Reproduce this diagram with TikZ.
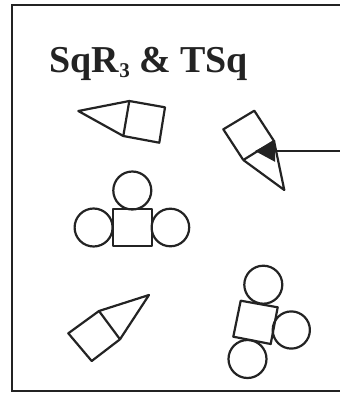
\documentclass[tikz,border=0pt]{standalone}
\usepackage{fontspec}
\setmainfont{Liberation Serif}
\usetikzlibrary{arrows.meta}
\definecolor{ink}{RGB}{35,35,35}
\tikzset{
  outline/.style={draw=ink, line width=2.2pt, line join=round},
  frame/.style={draw=ink, line width=2.3pt},
  pointer/.style={draw=ink, line width=2.3pt, -{Triangle[length=20pt,width=21pt]}},
}
\begin{document}
\begin{tikzpicture}[x=1pt,y=-1pt]
  \useasboundingbox (0,0) rectangle (340,400);
  \begin{scope}
    \clip (0,0) rectangle (340,400);
    \draw[frame] (12,5) rectangle (360,391);
  \end{scope}

  % heading
  \node[anchor=base west, inner sep=0pt, text=ink] (title) at (49.5,72.5)
    {\fontsize{38}{42}\selectfont\bfseries SqR\raisebox{-4.5pt}{\fontsize{21}{21}\selectfont 3} \& TSq};

  % square with triangle, upper left
  \coordinate (a1) at (129.3,101);
  \coordinate (a2) at (165,107.3);
  \coordinate (a3) at (159.3,142.7);
  \coordinate (a4) at (123.3,136);
  \coordinate (at) at (78.3,111);
  \draw[outline] (a1) -- (a2) -- (a3) -- (a4) -- cycle;
  \draw[outline] (a1) -- (at) -- (a4);

  % square with triangle, upper right
  \coordinate (b1) at (223.3,129.3);
  \coordinate (b2) at (254.3,110.7);
  \coordinate (b3) at (274,141);
  \coordinate (b4) at (243.3,160);
  \coordinate (bt) at (284.3,190);
  \draw[outline] (b1) -- (b2) -- (b3) -- (b4) -- cycle;
  \draw[outline] (b4) -- (bt) -- (b3);

  % square with three circles, middle left
  \draw[outline] (113,209) rectangle (152,246);
  \draw[outline] (132.3,190.5) circle (19);
  \draw[outline] (93.6,227.5) circle (19);
  \draw[outline] (170.4,227.5) circle (18.8);

  % square with triangle, lower left
  \coordinate (d1) at (68.3,333.3);
  \coordinate (d2) at (99,311);
  \coordinate (d3) at (120,339.3);
  \coordinate (d4) at (91.7,361);
  \coordinate (dt) at (149,295);
  \draw[outline] (d1) -- (d2) -- (d3) -- (d4) -- cycle;
  \draw[outline] (d2) -- (dt) -- (d3);

  % square with three circles, lower right
  \coordinate (e1) at (240.7,300.7);
  \coordinate (e2) at (277.7,307.3);
  \coordinate (e3) at (270.7,344);
  \coordinate (e4) at (233.3,336.7);
  \draw[outline] (e1) -- (e2) -- (e3) -- (e4) -- cycle;
  \draw[outline] (263.3,284.7) circle (19);
  \draw[outline] (291.3,330) circle (18.6);
  \draw[outline] (247.5,359) circle (19);

  % pointer coming in from the right
  \coordinate (src) at (345,151);
  \coordinate (dst) at (255,151);
  \draw[pointer] (src) -- (dst);
\end{tikzpicture}
\end{document}
